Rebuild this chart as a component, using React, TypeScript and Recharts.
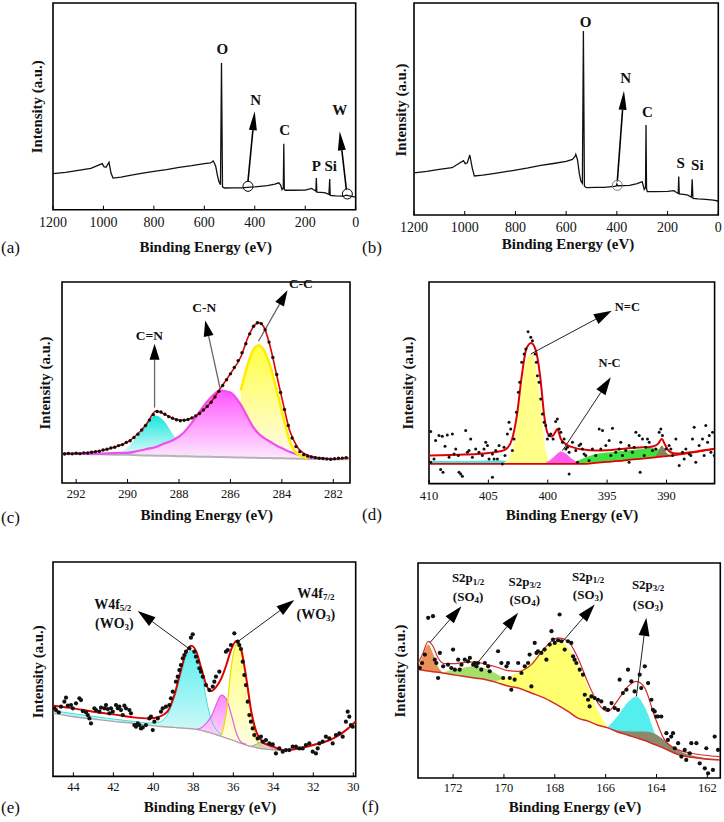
import React from "react";
import {
  ComposedChart,
  XAxis,
  YAxis,
  Line,
  Area,
  Scatter,
  ReferenceArea,
  ReferenceLine,
  ReferenceDot,
} from "recharts";

const SERIF = '"Liberation Serif", "Times New Roman", serif';
const N = null;

// ---------- (a) survey, sample 1 ----------
const aEnergy = [1200, 1150, 1100, 1050, 1005, 998, 990, 978, 970, 962, 930, 900, 850, 800, 750, 700, 650, 600, 575, 565, 560, 555, 548, 542, 536, 532, 528, 520, 480, 450, 420, 400, 350, 320, 305, 298, 292, 287, 285, 283, 280, 250, 200, 175, 165, 158, 156, 154, 140, 125, 118, 106, 103, 101, 80, 50, 35, 30, 20, 0];
const aCounts = [17.4, 18.1, 19.0, 20.0, 22.3, 20.8, 20.5, 22.9, 17.7, 15.3, 15.8, 16.5, 17.6, 18.5, 19.4, 20.5, 21.3, 22.3, 22.6, 23.6, 22.5, 21.0, 16.5, 13.5, 12.1, 71.0, 11.0, 10.5, 10.6, 10.6, 10.9, 11.0, 11.6, 12.4, 13.0, 12.0, 9.7, 10.5, 31.9, 10.0, 9.4, 9.4, 9.5, 10.3, 9.5, 9.0, 15.3, 8.5, 8.4, 8.3, 8.0, 7.4, 14.8, 6.9, 6.7, 6.6, 7.0, 6.8, 6.6, 6.1];

// ---------- (b) survey, sample 2 ----------
const bEnergy = [1200, 1150, 1100, 1050, 1005, 998, 990, 980, 970, 962, 930, 900, 850, 800, 750, 700, 650, 600, 575, 565, 562, 555, 548, 542, 536, 532, 528, 520, 480, 450, 420, 403, 400, 397, 350, 320, 305, 300, 292, 287, 285, 283, 280, 250, 200, 175, 165, 158, 156, 154, 130, 120, 106, 103, 100, 80, 50, 20, 0];
const bCounts = [19.9, 20.6, 21.5, 22.3, 25.6, 24.2, 24.6, 28.3, 22.0, 18.4, 18.8, 19.3, 20.2, 21.2, 22.2, 23.4, 24.3, 25.3, 26.2, 27.6, 28.6, 25.9, 19.5, 16.0, 14.9, 86.8, 13.6, 12.9, 13.0, 13.0, 13.4, 13.6, 14.6, 13.8, 14.0, 14.8, 15.5, 15.7, 12.1, 13.0, 42.4, 12.5, 11.0, 11.0, 11.1, 11.5, 10.6, 10.2, 18.1, 9.9, 9.6, 9.4, 8.4, 16.8, 7.8, 7.6, 7.4, 7.0, 6.6];

// ---------- (c) C 1s ----------
const cEnergy = [292.5, 291.7, 291.1, 290.5, 290.0, 289.6, 289.25, 288.9, 288.6, 288.2, 287.8, 287.5, 287.2, 286.8, 286.4, 286.0, 285.6, 285.3, 285.1, 284.9, 284.7, 284.45, 284.2, 283.95, 283.7, 283.4, 283.0, 282.5, 282.0, 281.4];
const cFit = [14.6, 14.9, 15.9, 17.9, 20.4, 24.5, 29.5, 35.8, 34.5, 32.0, 31.2, 32.3, 34.8, 39.5, 46.9, 54.4, 62.7, 73.0, 77.9, 79.8, 77.6, 67.7, 53.6, 39.5, 26.2, 17.9, 13.8, 12.4, 11.9, 12.6];
const cBase = [14.6, 14.4, 14.3, 14.1, 14.0, 13.8, 13.7, 13.6, 13.5, 13.4, 13.3, 13.2, 13.1, 13.0, 12.9, 12.8, 12.7, 12.6, 12.6, 12.5, 12.5, 12.4, 12.3, 12.3, 12.2, 12.1, 12.0, 11.9, 11.8, 11.8];
const cCdN = [14.6, 14.4, 14.3, 14.7, 17.7, 23.9, 30.6, 33.6, 31.1, 23.5, 17.0, 14.5, 13.5, 13.0, N, N, N, N, N, N, N, N, N, N, N, N, N, N, N, N];
const cCN = [14.6, 14.5, 14.6, 14.9, 15.0, 15.9, 16.9, 17.9, 19.5, 21.5, 25.3, 30.0, 35.5, 42.0, 46.0, 45.0, 39.0, 32.0, 27.5, 24.5, 22.5, 20.5, 18.5, 17.0, 15.5, 14.2, 13.0, 12.3, 11.9, N];
const cCC = [N, N, N, N, N, N, N, N, N, N, N, N, N, N, N, N, 46, 60, 66.5, 68.5, 66, 58, 46, 33, 21, 14.5, 12.3, N, N, N];
const cDots = [
  [292.45, 14.4], [292.3, 14.7], [292.15, 14.5], [292.0, 14.8], [291.85, 14.6], [291.7, 15.0], [291.55, 14.9], [291.4, 15.3], [291.25, 15.6], [291.1, 15.8],
  [290.95, 16.4], [290.8, 16.8], [290.65, 17.4], [290.5, 17.8], [290.35, 18.6], [290.2, 19.1], [290.05, 20.2], [289.9, 21.0], [289.75, 22.6], [289.6, 24.3],
  [289.45, 26.4], [289.3, 28.6], [289.15, 31.3], [289.0, 34.0], [288.85, 35.6], [288.7, 35.3], [288.55, 34.2], [288.4, 33.0], [288.25, 32.2], [288.1, 31.5],
  [287.95, 31.0], [287.8, 31.2], [287.65, 31.6], [287.5, 32.4], [287.35, 33.4], [287.2, 34.6], [287.05, 36.3], [286.9, 38.1], [286.75, 40.2], [286.6, 42.8],
  [286.45, 45.6], [286.3, 48.5], [286.15, 51.4], [286.0, 54.3], [285.85, 57.5], [285.7, 60.9], [285.55, 64.8], [285.4, 69.3], [285.25, 74.2], [285.1, 78.0],
  [284.95, 79.7], [284.8, 79.3], [284.65, 76.3], [284.5, 70.1], [284.35, 62.5], [284.2, 54.0], [284.05, 45.0], [283.9, 36.6], [283.75, 28.6], [283.6, 22.4],
  [283.45, 18.1], [283.3, 15.6], [283.15, 14.1], [283.0, 13.4], [282.85, 13.0], [282.7, 12.6], [282.55, 12.3], [282.4, 12.2], [282.25, 12.0], [282.1, 11.8],
  [281.95, 12.1], [281.8, 12.3], [281.65, 12.4], [281.5, 12.6],
];

// ---------- (d) N 1s ----------
const dEnergy = [410, 407, 405, 404, 403.5, 403, 402.6, 402.2, 401.8, 401.4, 401.0, 400.6, 400.3, 400.0, 399.7, 399.4, 399.2, 398.9, 398.5, 398, 397.5, 397, 396, 395, 394, 393, 392, 391.4, 391, 390.7, 390.4, 390.1, 389.8, 389.4, 389, 388, 387, 386];
const dFit = [84, 87, 92, 97, 104, 134, 204, 320, 404, 422, 399, 310, 204, 150, 141, 152, 164, 134, 119, 110, 105, 102, 99, 100, 103, 107, 109, 110, 113, 120, 134, 115, 98, 91, 90, 94, 99, 104];
const dBase = [59, 59, 59, 59, 59, 59, 59, 59, 59, 59, 59, 59, 59, 59, 59, 59, 59, 59, 59, 59, 59, 59, 62, 65, 68, 72, 75, 77, 79, 80, 81, 82, 83, 85, 87, 92, 98, 104];
const dCyan = [68, 68, 69, 69, 68, 66, 64, 62, 61, 60, 59.5, N, N, N, N, N, N, N, N, N, N, N, N, N, N, N, N, N, N, N, N, N, N, N, N, N, N, N];
const dNeqC = [N, N, N, 59, 66, 100, 175, 290, 370, 389, 350, 240, 130, 75, 60, 59, N, N, N, N, N, N, N, N, N, N, N, N, N, N, N, N, N, N, N, N, N, N];
const dNC = [N, N, N, N, N, N, N, N, N, N, N, N, 59, 66, 74, 83, 90, 96, 90, 75, 64, 59, N, N, N, N, N, N, N, N, N, N, N, N, N, N, N, N];
const dGreen = [N, N, N, N, N, N, N, N, N, N, N, N, N, N, N, N, N, N, N, 62, 68, 76, 88, 93, 97, 101, 104, 107, 106, 104, 100, 94, 88, 85, N, N, N, N];
const dOlive = [N, N, N, N, N, N, N, N, N, N, N, N, N, N, N, N, N, N, N, N, N, N, N, N, N, N, N, N, 79, 95, 114, 98, 84, N, N, N, N, N];
const dDots = [
  [409.86, 156], [409.86, 64], [409.58, 74], [409.44, 129], [409.16, 144], [409.02, 42], [408.88, 142], [408.82, 34], [408.65, 112], [408.46, 146],
  [408.31, 79], [408.03, 149], [407.89, 89], [407.75, 104], [407.53, 84], [407.47, 34], [407.33, 29], [407.19, 22], [406.91, 159], [406.77, 94],
  [406.63, 99], [406.49, 134], [406.35, 79], [406.07, 104], [405.79, 94], [405.51, 84], [405.37, 104], [405.22, 124], [405.08, 114], [404.94, 74],
  [404.66, 89], [404.66, 19], [404.52, 74], [404.38, 99], [404.24, 74], [404.1, 114], [403.82, 59], [403.68, 109], [403.6, 84], [403.4, 149],
  [403.26, 184], [403.12, 164], [402.98, 99], [402.84, 134], [402.64, 214], [402.47, 274], [402.36, 304], [402.19, 364], [401.99, 389], [401.85, 404],
  [401.66, 456], [401.43, 439], [401.29, 429], [401.07, 389], [400.96, 364], [400.87, 324], [400.73, 304], [400.59, 254], [400.45, 209], [400.31, 184],
  [400.17, 174], [400.03, 134], [399.89, 144], [399.75, 149], [399.55, 134], [399.33, 186], [399.19, 194], [399.04, 164], [398.9, 154], [398.76, 124],
  [398.62, 134], [398.48, 104], [398.34, 109], [398.2, 94], [398.2, 29], [397.92, 124], [397.64, 99], [397.5, 64], [397.36, 114], [397.22, 119],
  [397.08, 104], [396.94, 89], [396.8, 84], [396.52, 69], [396.24, 104], [395.96, 84], [395.67, 164], [395.53, 104], [395.39, 159], [395.11, 114],
  [394.83, 129], [394.69, 84], [394.55, 166], [394.27, 94], [393.99, 104], [393.85, 124], [393.71, 84], [393.43, 99], [393.15, 114], [393.15, 64],
  [392.87, 94], [392.72, 109], [392.58, 154], [392.3, 144], [392.22, 34], [392.02, 134], [391.88, 84], [391.74, 109], [391.6, 134], [391.46, 124],
  [391.18, 99], [390.9, 104], [390.62, 154], [390.48, 164], [390.34, 144], [390.06, 104], [389.78, 114], [389.63, 104], [389.49, 84], [389.21, 134],
  [388.93, 54], [388.65, 94], [388.51, 74], [388.37, 104], [388.09, 89], [387.95, 84], [387.81, 134], [387.67, 169], [387.53, 64], [387.25, 114],
  [386.97, 134], [386.83, 84], [386.69, 174], [386.54, 124], [386.4, 144], [386.26, 94], [386.12, 154], [385.98, 84],
];

// ---------- (e) W 4f ----------
const eEnergy = [45.0, 44.0, 43.0, 42.0, 41.0, 40.2, 39.7, 39.3, 38.95, 38.6, 38.35, 38.1, 37.85, 37.6, 37.35, 37.1, 36.85, 36.6, 36.35, 36.1, 35.85, 35.6, 35.35, 35.1, 34.85, 34.55, 34.25, 34.0, 33.5, 33.0, 32.0, 31.0, 30.0, 29.9];
const eFit = [212, 204, 194, 186, 177, 174, 179, 194, 244, 324, 374, 392, 374, 324, 274, 256, 269, 294, 334, 382, 406, 379, 294, 194, 134, 104, 94, 89, 79, 81, 94, 114, 158, 164];
const eBase = [189, 179, 172, 165, 159, 153, 150, 148, 147, 145, 144, 143, 141, 138, 134, 130, 125, 120, 115, 110, 104, 99, 94, 90, 86, 83, 81, 80, 79, 81, 94, 114, 158, 164];
const eW52 = [197, 188, 180, 172, 165, 160, 163, 185, 235, 310, 360, 378, 362, 318, 230, 170, 140, 125, N, N, N, N, N, N, N, N, N, N, N, N, N, N, N, N];
const eMid = [N, N, N, N, N, N, N, N, N, N, N, N, 141, 146, 160, 180, 216, 244, 232, 185, 130, 102, 96, N, N, N, N, N, N, N, N, N, N, N];
const eW72 = [N, N, N, N, N, N, N, N, N, N, N, N, N, N, N, N, N, 122, 190, 330, 396, 370, 290, 185, 112, 88, N, N, N, N, N, N, N, N];
const eLow = [N, N, N, N, N, N, N, N, N, N, N, N, N, N, N, N, N, N, N, N, N, N, N, 90, 96, 104, 94, 82, 79, N, N, N, N, N];
const eDots = [
  [44.95, 204], [44.87, 199], [44.73, 192], [44.62, 209], [44.45, 224], [44.37, 236], [44.28, 212], [44.12, 214], [44.03, 204], [43.87, 219],
  [43.7, 234], [43.62, 229], [43.53, 196], [43.37, 192], [43.28, 184], [43.2, 174], [43.12, 159], [42.95, 204], [42.87, 199], [42.7, 194],
  [42.62, 206], [42.45, 204], [42.37, 214], [42.28, 202], [42.2, 189], [42.12, 204], [42.03, 194], [41.87, 214], [41.78, 204], [41.7, 209],
  [41.62, 199], [41.53, 184], [41.45, 212], [41.37, 204], [41.2, 199], [41.12, 189], [40.95, 154], [40.87, 149], [40.78, 159], [40.7, 154],
  [40.62, 144], [40.53, 147], [40.37, 154], [40.2, 174], [40.12, 179], [40.03, 139], [39.95, 164], [39.78, 174], [39.62, 194], [39.53, 204],
  [39.37, 209], [39.2, 214], [39.12, 234], [39.03, 254], [38.87, 284], [38.78, 299], [38.7, 319], [38.62, 334], [38.53, 354], [38.45, 364],
  [38.37, 374], [38.2, 384], [38.12, 416], [38.03, 426], [37.95, 374], [37.87, 359], [37.78, 344], [37.7, 324], [37.62, 314], [37.53, 299],
  [37.37, 274], [37.2, 259], [37.03, 269], [36.95, 284], [36.87, 299], [36.7, 314], [36.37, 374], [36.28, 379], [36.12, 394], [35.95, 429],
  [35.78, 404], [35.7, 394], [35.62, 382], [35.53, 344], [35.45, 304], [35.37, 274], [35.28, 224], [35.2, 184], [35.12, 164], [35.03, 144],
  [34.95, 124], [34.78, 114], [34.62, 119], [34.53, 104], [34.37, 109], [34.2, 99], [34.03, 96], [33.87, 69], [33.7, 84], [33.53, 74],
  [33.37, 79], [33.2, 79], [33.03, 89], [32.87, 89], [32.7, 84], [32.53, 84], [32.37, 94], [32.2, 99], [32.03, 74], [31.87, 69],
  [31.78, 84], [31.7, 99], [31.53, 104], [31.37, 119], [31.2, 114], [31.03, 99], [30.87, 124], [30.7, 129], [30.53, 119], [30.37, 164],
  [30.28, 194], [30.2, 179], [30.12, 154], [30.03, 149],
];

// ---------- (f) S 2p ----------
const fEnergy = [173.37, 173.18, 172.98, 172.79, 172.59, 172.33, 172.0, 171.6, 171.15, 170.7, 170.3, 169.84, 169.44, 168.92, 168.4, 167.87, 167.48, 167.09, 166.69, 166.3, 165.91, 165.51, 165.12, 164.79, 164.46, 164.07, 163.68, 163.15, 162.63, 162.1, 161.5];
const fFit = [344, 374, 409, 394, 359, 342, 342, 345, 347, 340, 332, 321, 319, 339, 389, 419, 409, 359, 284, 224, 199, 234, 274, 289, 269, 184, 114, 84, 74, 68, 64];
const fBase = [324, 322, 320, 318, 316, 313, 309, 304, 299, 294, 286, 275, 269, 254, 239, 217, 199, 179, 170, 158, 150, 137, 128, 120, 112, 100, 88, 70, 62, 57, 54];
const fSO4a = [332, 367, 399, 372, 332, 313, N, N, N, N, N, N, N, N, N, N, N, N, N, N, N, N, N, N, N, N, N, N, N, N, N];
const fSO4b = [N, N, N, N, N, 317, 324, 330, 334, 327, 312, 292, 269, N, N, N, N, N, N, N, N, N, N, N, N, N, N, N, N, N, N];
const fSO3a = [N, N, N, N, N, N, N, N, N, N, 290, 302, 317, 347, 387, 410, 392, 342, 272, 202, 150, N, N, N, N, N, N, N, N, N, N];
const fSO3b = [N, N, N, N, N, N, N, N, N, N, N, N, N, N, N, N, N, N, N, N, 152, 187, 227, 244, 212, 132, N, N, N, N, N];
const fTail = [N, N, N, N, N, N, N, N, N, N, N, N, N, N, N, N, N, N, N, N, 152, 142, 140, 139, 139, 132, 112, 82, 68, 60, 57];
const fDots = [
  [173.31, 329], [173.22, 344], [173.11, 369], [172.98, 479], [172.79, 484], [172.72, 354], [172.66, 344], [172.59, 299], [172.52, 374], [172.39, 334],
  [172.2, 339], [172.07, 329], [172.0, 384], [171.93, 324], [171.8, 354], [171.74, 324], [171.67, 339], [171.54, 354], [171.41, 349], [171.34, 359],
  [171.21, 339], [171.15, 344], [171.08, 334], [171.02, 344], [170.89, 324], [170.75, 344], [170.62, 334], [170.56, 319], [170.23, 379], [170.1, 344],
  [170.03, 299], [169.9, 334], [169.84, 344], [169.77, 299], [169.71, 264], [169.58, 294], [169.44, 344], [169.31, 314], [169.18, 334], [169.05, 344],
  [168.99, 369], [168.92, 274], [168.79, 404], [168.72, 374], [168.66, 379], [168.53, 374], [168.4, 384], [168.33, 354], [168.2, 399], [168.13, 439],
  [168.07, 414], [168.0, 404], [167.87, 412], [167.81, 489], [167.74, 409], [167.61, 384], [167.48, 409], [167.35, 404], [167.28, 364], [167.22, 354],
  [167.15, 344], [167.02, 324], [166.89, 309], [166.82, 249], [166.69, 234], [166.63, 214], [166.56, 244], [166.43, 239], [166.3, 234], [166.17, 229],
  [166.04, 209], [165.91, 204], [165.77, 224], [165.64, 209], [165.51, 204], [165.45, 294], [165.32, 254], [165.18, 264], [165.12, 324], [164.99, 289],
  [164.86, 259], [164.66, 309], [164.6, 269], [164.46, 334], [164.33, 284], [164.2, 234], [164.14, 204], [164.07, 199], [164.01, 184], [163.94, 184],
  [163.81, 184], [163.61, 134], [163.55, 114], [163.42, 124], [163.35, 134], [163.28, 89], [163.15, 104], [163.02, 64], [162.89, 84], [162.83, 54],
  [162.69, 74], [162.63, 104], [162.43, 104], [162.3, 44], [162.1, 29], [162.04, 89], [161.97, 14], [161.78, 24], [161.71, 124], [161.58, 84],
];

// ---------- helpers ----------
type Row = Record<string, any>;

function makeRows(xs: number[], base: number[] | null, cols: Record<string, (number | null)[]>): Row[] {
  return xs.map((x, i) => {
    const r: Row = { x };
    if (base) r.base = base[i];
    Object.keys(cols).forEach((k) => {
      const v = cols[k][i];
      r[k] = v;
      if (base) r[k + "R"] = v == null ? null : [base[i], v];
    });
    return r;
  });
}

const toPts = (arr: number[][]) => arr.map(([x, y]) => ({ x, y }));

const aRows = makeRows(aEnergy, null, { y: aCounts });
const bRows = makeRows(bEnergy, null, { y: bCounts });
const cRows = makeRows(cEnergy, cBase, { fit: cFit, cdn: cCdN, cn: cCN, cc: cCC });
const dRows = makeRows(dEnergy, dBase, { fit: dFit, cy: dCyan, ndc: dNeqC, nc: dNC, gr: dGreen, ol: dOlive });
const eRows = makeRows(eEnergy, eBase, { fit: eFit, w5: eW52, mid: eMid, w7: eW72, low: eLow });
const fRows = makeRows(fEnergy, fBase, { fit: fFit, s1: fSO4a, s2: fSO4b, s3: fSO3a, s4: fSO3b, tail: fTail });

type ArrowOpt = { shaft?: string; sw?: number; head?: number; wide?: number };

function arrow(key: string, from: number[], to: number[], o: ArrowOpt = {}) {
  const { shaft = "#000", sw = 1, head = 15, wide = 10 } = o;
  return (
    <ReferenceLine
      key={key}
      segment={[{ x: from[0], y: from[1] }, { x: to[0], y: to[1] }]}
      ifOverflow="visible"
      shape={(p: any) => {
        const { x1, y1, x2, y2 } = p;
        const len = Math.hypot(x2 - x1, y2 - y1) || 1;
        const ux = (x2 - x1) / len;
        const uy = (y2 - y1) / len;
        const bx = x2 - ux * head;
        const by = y2 - uy * head;
        const nx = (-uy * wide) / 2;
        const ny = (ux * wide) / 2;
        return (
          <g>
            <line x1={x1} y1={y1} x2={bx} y2={by} stroke={shaft} strokeWidth={sw} />
            <polygon points={`${x2},${y2} ${bx + nx},${by + ny} ${bx - nx},${by - ny}`} fill="#000" />
          </g>
        );
      }}
    />
  );
}

function note(key: string, at: number[], content: React.ReactNode, size = 13) {
  return (
    <ReferenceDot
      key={key}
      x={at[0]}
      y={at[1]}
      r={1}
      ifOverflow="visible"
      shape={(p: any) => (
        <text x={p.cx} y={p.cy} textAnchor="middle" dominantBaseline="central" fontFamily={SERIF} fontWeight="bold" fontSize={size} fill="#111">
          {content}
        </text>
      )}
    />
  );
}

function ring(key: string, at: number[], color: string) {
  return <ReferenceDot key={key} x={at[0]} y={at[1]} r={5} fill="none" stroke={color} strokeWidth={1} ifOverflow="visible" />;
}

const sub = (s: string, fs = 9) => (
  <tspan fontSize={fs} dy={4}>
    {s}
  </tspan>
);
const back = (s: string) => <tspan dy={-4}>{s}</tspan>;

const dot = (r: number) => (p: any) => <circle cx={p.cx} cy={p.cy} r={r} fill="#111" />;

const grad = (id: string, top: string, bottom: string) => (
  <linearGradient id={id} x1="0" y1="0" x2="0" y2="1">
    <stop offset="0%" stopColor={top} />
    <stop offset="100%" stopColor={bottom} />
  </linearGradient>
);

function Panel({ box, domain, yMax, ticks, fs = 12.5, gap = 10, data, children }: any) {
  const [l, t, r, b] = box;
  const M = 24;
  const w = r - l + 2 * M;
  const h = b - t + M + 32;
  return (
    <div style={{ position: "absolute", left: l - M, top: t - M }}>
      <ComposedChart width={w} height={h} data={data} margin={{ top: M, right: M, bottom: 0, left: M }}>
        <XAxis
          type="number"
          dataKey="x"
          domain={domain}
          reversed
          allowDataOverflow
          ticks={ticks}
          interval={0}
          height={32}
          axisLine={false}
          tickSize={-4}
          tickMargin={gap}
          tickLine={{ stroke: "#000", strokeWidth: 1 }}
          tick={{ fontFamily: SERIF, fontSize: fs, fill: "#111" }}
        />
        <YAxis type="number" domain={[0, yMax]} allowDataOverflow hide />
        {children}
        <ReferenceArea x1={domain[0]} x2={domain[1]} y1={0} y2={yMax} fill="none" stroke="#000" strokeWidth={1.6} ifOverflow="visible" />
      </ComposedChart>
    </div>
  );
}

const surveyArrow = { shaft: "#000", sw: 1.6, head: 19, wide: 8 };
const cArrow = { shaft: "#666", sw: 1.3, head: 16, wide: 10 };
const thin = { shaft: "#222", sw: 1, head: 18, wide: 11 };

const xTitles = [
  [205.7, 246.7],
  [568, 244],
  [206.7, 515],
  [572, 515],
  [210, 806.7],
  [575, 806.7],
];
const yTitles = [
  [37.3, 106.7],
  [401.3, 110],
  [45, 383],
  [408.7, 383],
  [38.3, 671.7],
  [400.3, 671],
];
const letters = [
  ["(a)", 1, 247],
  ["(b)", 362, 247],
  ["(c)", 1, 517],
  ["(d)", 362, 514],
  ["(e)", 1, 807],
  ["(f)", 362, 806],
];

export default function App() {
  return (
    <div style={{ position: "absolute", left: 0, top: 0, width: 724, height: 822, background: "#fff" }}>
      {/* (a) */}
      <Panel box={[53.3, 3.3, 356, 210]} domain={[0, 1200]} yMax={100} ticks={[0, 200, 400, 600, 800, 1000, 1200]} fs={14} gap={11} data={aRows}>
        <Line dataKey="y" type="linear" stroke="#111" strokeWidth={1.3} dot={false} isAnimationActive={false} />
        {ring("a-r1", [427, 11.3], "#000")}
        {ring("a-r2", [33, 7.6], "#000")}
        {arrow("a-n", [426.9, 13.9], [400.4, 47.6], surveyArrow)}
        {arrow("a-w", [37, 9.8], [63.4, 37.9], surveyArrow)}
        {note("a-o", [528.6, 77.7], "O", 15)}
        {note("a-nt", [396.5, 53.2], "N", 15)}
        {note("a-c", [281.5, 38.4], "C", 15)}
        {note("a-p", [155.9, 21], "P", 15)}
        {note("a-si", [99.1, 21], "Si", 15)}
        {note("a-wt", [63.4, 48.4], "W", 15)}
      </Panel>

      {/* (b) */}
      <Panel box={[413.7, 3, 718, 215]} domain={[0, 1200]} yMax={100} ticks={[0, 200, 400, 600, 800, 1000, 1200]} fs={14} gap={11} data={bRows}>
        <Line dataKey="y" type="linear" stroke="#111" strokeWidth={1.3} dot={false} isAnimationActive={false} />
        {ring("b-r1", [398.3, 14.0], "#777")}
        {arrow("b-n", [398.3, 15.8], [372, 58.6], surveyArrow)}
        {note("b-o", [523.1, 91], "O", 15)}
        {note("b-nt", [365.4, 64.4], "N", 15)}
        {note("b-c", [280, 48.4], "C", 15)}
        {note("b-s", [148.6, 24.3], "S", 15)}
        {note("b-si", [82.8, 23.5], "Si", 15)}
      </Panel>

      {/* (c) */}
      <Panel box={[62, 281.7, 350, 482.7]} domain={[281.35, 292.55]} yMax={100} ticks={[282, 284, 286, 288, 290, 292]} gap={10} data={cRows}>
        <defs>
          {grad("c-cy", "#17e6dc", "#e8fbfa")}
          {grad("c-mg", "#ff55ff", "#fdeafd")}
          {grad("c-yl", "#ffff44", "#fffbea")}
        </defs>
        <Area dataKey="cdnR" type="monotone" stroke="none" fill="url(#c-cy)" fillOpacity={1} isAnimationActive={false} />
        <Area dataKey="ccR" type="monotone" stroke="none" fill="url(#c-yl)" fillOpacity={1} isAnimationActive={false} />
        <Area dataKey="cnR" type="monotone" stroke="none" fill="url(#c-mg)" fillOpacity={1} isAnimationActive={false} />
        <Line dataKey="base" type="monotone" stroke="#b4b4b4" strokeWidth={2} dot={false} isAnimationActive={false} />
        <Line dataKey="cn" type="monotone" stroke="#ee4fee" strokeWidth={2.2} dot={false} isAnimationActive={false} />
        <Line dataKey="cc" type="monotone" stroke="#ffee00" strokeWidth={2.6} dot={false} isAnimationActive={false} />
        <Line dataKey="fit" type="monotone" stroke="#e00000" strokeWidth={1.6} dot={false} isAnimationActive={false} />
        <Scatter data={toPts(cDots)} dataKey="y" shape={dot(1.7)} isAnimationActive={false} />
        {arrow("c-a1", [288.95, 37.5], [288.95, 69.3], cArrow)}
        {arrow("c-a2", [286.4, 46.9], [286.98, 80.9], cArrow)}
        {arrow("c-a3", [284.91, 70.5], [283.78, 95.9], cArrow)}
        {note("c-t1", [289.15, 73.5], "C=N", 13.5)}
        {note("c-t2", [287.02, 87.4], "C-N", 13.5)}
        {note("c-t3", [283.26, 99.3], "C-C", 13.5)}
      </Panel>

      {/* (d) */}
      <Panel box={[428.7, 281.7, 714.3, 483.3]} domain={[385.95, 410]} yMax={605} ticks={[390, 395, 400, 405, 410]} gap={11.5} data={dRows}>
        <Area dataKey="cyR" type="monotone" stroke="none" fill="#3ee6e6" fillOpacity={1} isAnimationActive={false} />
        <Area dataKey="grR" type="monotone" stroke="none" fill="#3fe03f" fillOpacity={1} isAnimationActive={false} />
        <Area dataKey="ndcR" type="monotone" stroke="none" fill="#ffff8a" fillOpacity={1} isAnimationActive={false} />
        <Area dataKey="ncR" type="monotone" stroke="none" fill="#ff5cf0" fillOpacity={1} isAnimationActive={false} />
        <Area dataKey="olR" type="monotone" stroke="none" fill="#85855c" fillOpacity={1} isAnimationActive={false} />
        <Line dataKey="base" type="monotone" stroke="#e00000" strokeWidth={1.8} dot={false} isAnimationActive={false} />
        <Line dataKey="fit" type="monotone" stroke="#e00000" strokeWidth={2} dot={false} isAnimationActive={false} />
        <Scatter data={toPts(dDots)} dataKey="y" shape={dot(1.5)} isAnimationActive={false} />
        {arrow("d-a1", [401.43, 389], [394.61, 519], thin)}
        {arrow("d-a2", [398.76, 99], [394.69, 319], thin)}
        {note("d-t1", [393.29, 529], "N=C", 12.5)}
        {note("d-t2", [394.8, 362], "N-C", 12.5)}
      </Panel>

      {/* (e) */}
      <Panel box={[53.3, 562.3, 356, 776.7]} domain={[29.88, 45.02]} yMax={643} ticks={[30, 32, 34, 36, 38, 40, 42, 44]} gap={9.5} data={eRows}>
        <defs>
          {grad("e-cy", "#5eeeee", "#d6f9f9")}
          {grad("e-mg", "#ff88ff", "#fde3fd")}
          {grad("e-yl", "#ffff80", "#fffde2")}
        </defs>
        <Area dataKey="w5R" type="monotone" stroke="none" fill="url(#e-cy)" fillOpacity={1} isAnimationActive={false} />
        <Area dataKey="midR" type="monotone" stroke="none" fill="url(#e-mg)" fillOpacity={1} isAnimationActive={false} />
        <Area dataKey="w7R" type="monotone" stroke="none" fill="url(#e-yl)" fillOpacity={1} isAnimationActive={false} />
        <Area dataKey="lowR" type="monotone" stroke="none" fill="#d6d6d6" fillOpacity={1} isAnimationActive={false} />
        <Line dataKey="base" type="monotone" stroke="#b0a4a8" strokeWidth={1.4} dot={false} isAnimationActive={false} />
        <Line dataKey="w5" type="monotone" stroke="#3cdede" strokeWidth={1} dot={false} isAnimationActive={false} />
        <Line dataKey="mid" type="monotone" stroke="#e060e0" strokeWidth={1.2} dot={false} isAnimationActive={false} />
        <Line dataKey="w7" type="monotone" stroke="#e8de00" strokeWidth={1.2} dot={false} isAnimationActive={false} />
        <Line dataKey="low" type="monotone" stroke="#9a9a9a" strokeWidth={1} dot={false} isAnimationActive={false} />
        <Line dataKey="fit" type="monotone" stroke="#e00000" strokeWidth={2} dot={false} isAnimationActive={false} />
        <Scatter data={toPts(eDots)} dataKey="y" shape={dot(2.1)} isAnimationActive={false} />
        {arrow("e-a1", [38.12, 379], [40.78, 496], thin)}
        {arrow("e-a2", [35.78, 404], [32.95, 529], thin)}
        {note("e-t1", [42.03, 516], <>W4f{sub("5/2")}</>, 14)}
        {note("e-t2", [41.95, 459], <>(WO{sub("3")}{back(")")}</>, 14)}
        {note("e-t3", [31.87, 549], <>W4f{sub("7/2")}</>, 14)}
        {note("e-t4", [31.87, 486], <>(WO{sub("3")}{back(")")}</>, 14)}
      </Panel>

      {/* (f) */}
      <Panel box={[418, 563.3, 720.3, 778.3]} domain={[161.49, 173.38]} yMax={643} ticks={[162, 164, 166, 168, 170, 172]} gap={9.5} data={fRows}>
        <Area dataKey="s1R" type="monotone" stroke="none" fill="#e8925a" fillOpacity={1} isAnimationActive={false} />
        <Area dataKey="s2R" type="monotone" stroke="none" fill="#a6df6a" fillOpacity={1} isAnimationActive={false} />
        <Area dataKey="s3R" type="monotone" stroke="none" fill="#ffff70" fillOpacity={1} isAnimationActive={false} />
        <Area dataKey="s4R" type="monotone" stroke="none" fill="#55eeee" fillOpacity={1} isAnimationActive={false} />
        <Area dataKey="tailR" type="monotone" stroke="none" fill="#8c886a" fillOpacity={1} isAnimationActive={false} />
        <Line dataKey="base" type="monotone" stroke="#d42a2a" strokeWidth={1.5} dot={false} isAnimationActive={false} />
        <Line dataKey="fit" type="monotone" stroke="#d42a2a" strokeWidth={1.2} dot={false} isAnimationActive={false} />
        <Scatter data={toPts(fDots)} dataKey="y" shape={dot(2.1)} isAnimationActive={false} />
        {arrow("f-a1", [172.92, 404], [171.67, 514], thin)}
        {arrow("f-a2", [171.15, 334], [169.44, 494], thin)}
        {arrow("f-a3", [167.74, 404], [166.43, 519], thin)}
        {arrow("f-a4", [164.79, 244], [164.4, 479], thin)}
        {note("f-t1", [171.41, 599], <>S2p{sub("1/2")}</>, 13)}
        {note("f-t2", [171.41, 544], <>(SO{sub("4")}{back(")")}</>, 13)}
        {note("f-t3", [169.18, 589], <>S2p{sub("3/2")}</>, 13)}
        {note("f-t4", [169.18, 534], <>(SO{sub("4")}{back(")")}</>, 13)}
        {note("f-t5", [166.69, 604], <>S2p{sub("1/2")}</>, 13)}
        {note("f-t6", [166.69, 549], <>(SO{sub("3")}{back(")")}</>, 13)}
        {note("f-t7", [164.33, 579], <>S2p{sub("3/2")}</>, 13)}
        {note("f-t8", [164.33, 519], <>(SO{sub("3")}{back(")")}</>, 13)}
      </Panel>

      <svg width={724} height={822} style={{ position: "absolute", left: 0, top: 0, pointerEvents: "none" }}>
        {xTitles.map(([x, y], i) => (
          <text key={"x" + i} x={x} y={y} textAnchor="middle" dominantBaseline="central" fontFamily={SERIF} fontWeight="bold" fontSize={15} fill="#111">
            Binding Energy (eV)
          </text>
        ))}
        {yTitles.map(([x, y], i) => (
          <text
            key={"y" + i}
            transform={`translate(${x},${y}) rotate(-90)`}
            textAnchor="middle"
            dominantBaseline="central"
            fontFamily={SERIF}
            fontWeight="bold"
            fontSize={14}
            textLength={93}
            lengthAdjust="spacingAndGlyphs"
            fill="#111"
          >
            Intensity (a.u.)
          </text>
        ))}
        {letters.map(([t, x, y]) => (
          <text key={t as string} x={x as number} y={y as number} dominantBaseline="central" fontFamily={SERIF} fontSize={17} fill="#111">
            {t}
          </text>
        ))}
      </svg>
    </div>
  );
}
